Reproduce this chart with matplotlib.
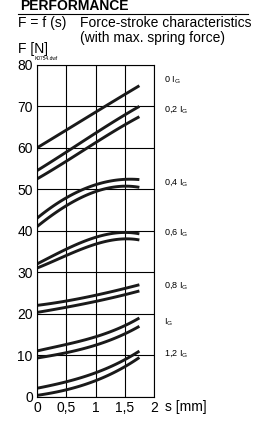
import matplotlib.pyplot as plt
import numpy as np

plt.rcParams['font.family'] = ['Liberation Sans', 'DejaVu Sans']
plt.rcParams['mathtext.fontset'] = 'custom'
plt.rcParams['mathtext.rm'] = 'Liberation Sans'

# stroke positions (mm)
s = np.array([0, 0.5, 1.0, 1.5, 1.75])

# force curves (N), upper and lower of each pair
f_0 = np.array([60, 64.3, 68.6, 72.9, 75])
f_02_hi = np.array([54.5, 59, 63.5, 68, 70])
f_02_lo = np.array([52.5, 56.8, 61.2, 65.6, 67.5])
f_04_hi = np.array([43, 48, 51, 52.5, 52.3])
f_04_lo = np.array([41, 46, 49.5, 50.7, 50.5])
f_06_hi = np.array([32, 35.5, 38.5, 39.5, 39.3])
f_06_lo = np.array([31, 34, 36.8, 38, 37.8])
f_08_hi = np.array([22, 23, 24.5, 26, 27])
f_08_lo = np.array([20.3, 21.5, 23, 24.5, 25.5])
f_10_hi = np.array([11, 12.5, 14.5, 17, 19])
f_10_lo = np.array([9.3, 10.5, 12.5, 15, 17])
f_12_hi = np.array([2, 3.5, 5.8, 8.8, 11])
f_12_lo = np.array([0.3, 1.5, 4, 7, 9.5])

curves = [f_0, f_02_hi, f_02_lo, f_04_hi, f_04_lo, f_06_hi, f_06_lo,
          f_08_hi, f_08_lo, f_10_hi, f_10_lo, f_12_hi, f_12_lo]

labels = ['0 $\\mathregular{I_G}$', '0,2 $\\mathregular{I_G}$', '0,4 $\\mathregular{I_G}$',
          '0,6 $\\mathregular{I_G}$', '0,8 $\\mathregular{I_G}$', '$\\mathregular{I_G}$',
          '1,2 $\\mathregular{I_G}$']
label_y = [76.4, 69.2, 51.6, 39.5, 26.9, 18, 10.3]

xticks = [0, 0.5, 1, 1.5, 2]
xticklabels = ['0', '0,5', '1', '1,5', '2']
yticks = [0, 10, 20, 30, 40, 50, 60, 70, 80]

W, H = 254, 422
fig = plt.figure(figsize=(W / 100, H / 100), dpi=100)
ax = fig.add_axes([37 / W, 1 - 396.5 / H, 117 / W, 331.5 / H])

for c in curves:
    # smooth through the read points
    xs = np.linspace(0, 1.75, 60)
    coef = np.polyfit(s, c, 3)
    ax.plot(xs, np.polyval(coef, xs), color='#1a1a1a', linewidth=2.1, solid_capstyle='butt')

ax.set_xlim(0, 2)
ax.set_ylim(0, 80)
ax.set_xticks(xticks)
ax.set_xticklabels(xticklabels)
ax.set_yticks(yticks)
ax.tick_params(length=0, labelsize=10, pad=3)
ax.grid(color='black', linewidth=0.8)
for sp in ax.spines.values():
    sp.set_linewidth(0.8)

for lab, y in zip(labels, label_y):
    ax.text(2.17, y, lab, fontsize=6.5, va='center', ha='left', clip_on=False)

# figure-level texts placed by pixel baseline
def ftext(x, y, txt, **kw):
    fig.text(x / W, 1 - y / H, txt, va='baseline', ha='left', **kw)

ftext(165, 411, 's [mm]', fontsize=10)
ftext(20, 10, 'PERFORMANCE', fontsize=10, fontweight='bold')
fig.add_artist(plt.Line2D([18 / W, 248 / W], [1 - 13.5 / H, 1 - 13.5 / H],
                          color='black', linewidth=0.8))
ftext(18, 27, 'F = f (s)', fontsize=10)
ftext(80, 27, 'Force-stroke characteristics', fontsize=10)
ftext(80, 42, '(with max. spring force)', fontsize=10)
ftext(18, 53, 'F [N]', fontsize=10)
ftext(35, 60, 'K0754.dwf', fontsize=3.5)

fig.savefig('out.png', dpi=100)
